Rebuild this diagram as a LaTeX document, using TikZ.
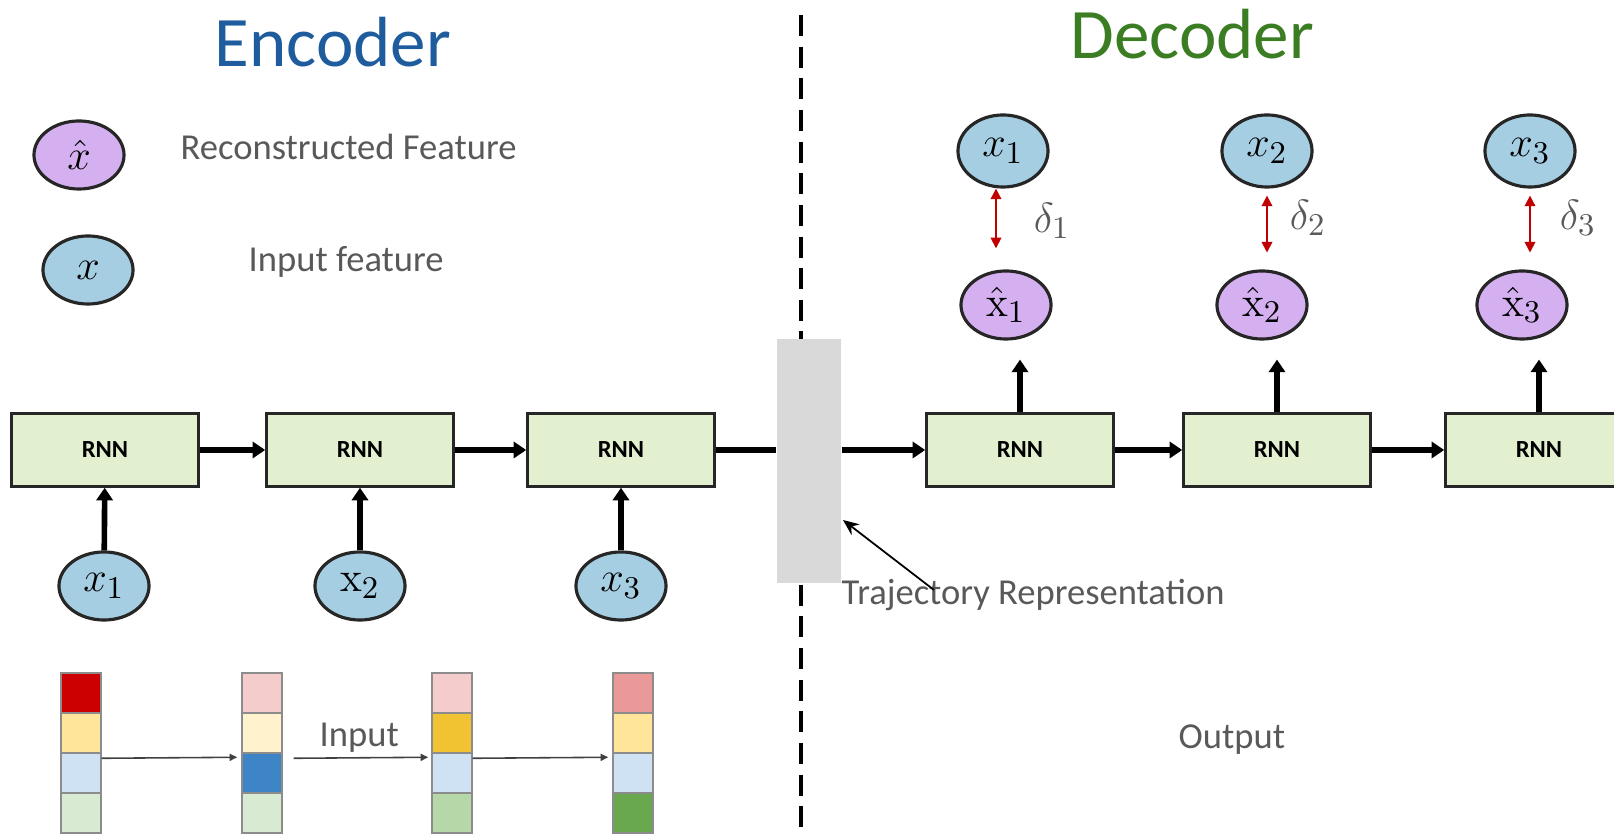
\documentclass[tikz,border=0pt]{standalone}
\usepackage[no-math]{fontspec}
\setmainfont{Carlito}
\usetikzlibrary{arrows.meta,calc,shapes.geometric}

\definecolor{rnngreen}{RGB}{226,240,208}
\definecolor{featblue}{RGB}{166,206,227}
\definecolor{recpurple}{RGB}{212,176,240}
\definecolor{repgray}{RGB}{217,217,217}
\definecolor{txtgray}{RGB}{89,89,89}
\definecolor{encblue}{RGB}{30,92,158}
\definecolor{decgreen}{RGB}{58,125,34}
\definecolor{errred}{RGB}{192,0,0}
% bar cell colours
\definecolor{cRed}{RGB}{204,0,0}
\definecolor{cPink}{RGB}{244,204,204}
\definecolor{cRose}{RGB}{234,153,153}
\definecolor{cYel}{RGB}{255,229,153}
\definecolor{cPale}{RGB}{255,242,204}
\definecolor{cGold}{RGB}{241,194,50}
\definecolor{cSky}{RGB}{207,226,243}
\definecolor{cBlue}{RGB}{61,133,198}
\definecolor{cMint}{RGB}{217,234,211}
\definecolor{cLeaf}{RGB}{182,215,168}
\definecolor{cGreen}{RGB}{106,168,79}

\begin{document}
\begin{tikzpicture}[x=0.01cm,y=-0.01cm,
    rnnbox/.style={draw=black!85, line width=0.7pt, fill=rnngreen,
      minimum width=1.87cm, minimum height=0.73cm, inner sep=0pt,
      font=\fontsize{7}{8}\selectfont\bfseries},
    featnode/.style={ellipse, draw=black!85, line width=0.9pt, fill=featblue,
      minimum width=0.9cm, minimum height=0.68cm, inner sep=0pt,
      font=\fontsize{13}{15}\selectfont},
    recnode/.style={featnode, fill=recpurple},
    lbl/.style={text=txtgray, font=\fontsize{10.4}{12}\selectfont, inner sep=0pt},
    flow/.style={line width=1.6pt, -{Triangle[length=3.6pt,width=4.6pt]}},
    errarrow/.style={errred, line width=0.5pt, {Triangle[length=3pt,width=3pt]}-{Triangle[length=3pt,width=3pt]}},
    cell/.style={draw=black!45, line width=0.4pt, minimum width=0.4cm,
      minimum height=0.4cm, inner sep=0pt},
    barflow/.style={black!75, line width=0.45pt, -{Triangle[length=2.2pt,width=2pt]}}]

    \useasboundingbox (0,0) rectangle (1614,834);

    % Titles
    \node[anchor=base west, inner sep=0pt, text=encblue, font=\fontsize{20.2}{24}\selectfont] (enctitle) at (214,67) {Encoder};
    \node[anchor=base west, inner sep=0pt, text=decgreen, font=\fontsize{20.2}{24}\selectfont] (dectitle) at (1070,59) {Decoder};

    % Separator
    \draw[line width=0.9pt, dash pattern=on 6pt off 3pt] (801,15) coordinate (septop) -- (801,834) coordinate (sepbot);

    % Legend
    \node[recnode] (legrec) at (79,155) {$\hat{x}$};
    \node[featnode] (legfeat) at (88,270) {$x$};
    \node[lbl, anchor=base west] (legrectxt) at (180,160) {Reconstructed Feature};
    \node[lbl, anchor=base west] (legfeattxt) at (248,272) {Input feature};

    % Encoder
    \node[rnnbox] (enc1) at (105,450) {RNN};
    \node[rnnbox] (enc2) at (360,450) {RNN};
    \node[rnnbox] (enc3) at (621,450) {RNN};
    \node[featnode] (in1) at (104,586) {$x_1$};
    \node[featnode] (in2) at (360,586) {$\mathrm{x}_2$};
    \node[featnode] (in3) at (621,586) {$x_3$};
    \foreach \i in {1,2,3}
        \draw[flow] (in\i) -- (enc\i);
    \draw[flow] (enc1) -- (enc2);
    \draw[flow] (enc2) -- (enc3);

    % Trajectory representation
    \node[fill=repgray, minimum width=0.64cm, minimum height=2.43cm, inner sep=0pt] (rep) at (809,461) {};
    \draw[line width=1.6pt] (enc3.east) -- (rep.west |- enc3);
    \node[lbl, anchor=base west] (reptxt) at (841,605) {Trajectory Representation};
    \coordinate (reptail) at (934,590);
    \coordinate (reptip) at (843,520);
    \draw[line width=0.5pt, -{Stealth[length=4.5pt,width=3.8pt]}] (reptail) -- (reptip);

    % Decoder
    \node[rnnbox] (dec1) at (1020,450) {RNN};
    \node[rnnbox] (dec2) at (1277,450) {RNN};
    \node[rnnbox] (dec3) at (1539,450) {RNN};
    \draw[flow] (rep.east |- dec1) -- (dec1);
    \draw[flow] (dec1) -- (dec2);
    \draw[flow] (dec2) -- (dec3);

    \node[recnode] (out1) at (1006,305) {$\hat{\mathrm{x}}_1$};
    \node[recnode] (out2) at (1262,305) {$\hat{\mathrm{x}}_2$};
    \node[recnode] (out3) at (1522,305) {$\hat{\mathrm{x}}_3$};
    \node[featnode, minimum height=0.72cm] (tgt1) at (1003,151) {$x_1$};
    \node[featnode, minimum height=0.72cm] (tgt2) at (1267,151) {$x_2$};
    \node[featnode, minimum height=0.72cm] (tgt3) at (1530,151) {$x_3$};
    \foreach \i in {1,2,3}
        \draw[flow, shorten >=5.4pt] (dec\i.north) -- (dec\i.north |- out\i.south);

    % Reconstruction errors
    \draw[errarrow, shorten >=6pt] ([xshift=-0.07cm]tgt1.south) -- ([xshift=-0.07cm]tgt1.south |- out1.north);
    \draw[errarrow, shorten <=2pt, shorten >=4.8pt] (tgt2.south) -- (tgt2.south |- out2.north);
    \draw[errarrow, shorten <=2pt, shorten >=4.8pt] (tgt3.south) -- (tgt3.south |- out3.north);
    \node[text=txtgray, font=\fontsize{13}{15}\selectfont, inner sep=0pt] (err1) at (1052,221) {$\delta_1$};
    \node[text=txtgray, font=\fontsize{13}{15}\selectfont, inner sep=0pt] (err2) at (1308,218) {$\delta_2$};
    \node[text=txtgray, font=\fontsize{13}{15}\selectfont, inner sep=0pt] (err3) at (1578,218) {$\delta_3$};

    % Input bars
    \foreach \b/\bx/\ca/\cb/\cc/\cd in {1/81/cRed/cYel/cSky/cMint, 2/262/cPink/cPale/cBlue/cMint,
                                        3/452/cPink/cGold/cSky/cLeaf, 4/633/cRose/cYel/cSky/cGreen} {
        \node[cell, fill=\ca] (bar\b-1) at (\bx,693) {};
        \node[cell, fill=\cb] (bar\b-2) at (\bx,733) {};
        \node[cell, fill=\cc] (bar\b-3) at (\bx,773) {};
        \node[cell, fill=\cd] (bar\b-4) at (\bx,813) {};
    }
    \draw[barflow] ($(bar1-3.north east)+(0,6)$) -- ($(bar2-3.north west)+(-4,5)$);
    \draw[barflow] ($(bar2-3.north east)+(11,6)$) -- ($(bar3-3.north west)+(-3,5)$);
    \draw[barflow] ($(bar3-3.north east)+(0,6)$) -- ($(bar4-3.north west)+(-4,5)$);
    \node[lbl, anchor=base west] (intxt) at (319,747) {Input};
    \node[lbl, anchor=base west] (outtxt) at (1178,749) {Output};

\end{tikzpicture}
\end{document}
